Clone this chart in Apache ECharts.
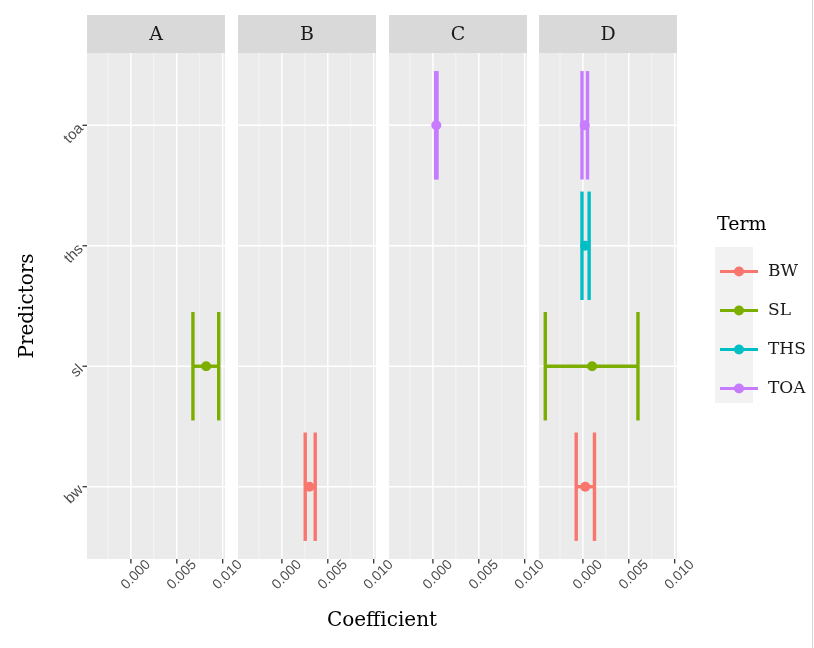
<!DOCTYPE html>
<html><head><meta charset="utf-8">
<script src="https://cdn.jsdelivr.net/npm/echarts@6/dist/echarts.min.js"></script>
<style>html,body{margin:0;padding:0;background:#fff}#c{width:814px;height:648px}</style>
</head><body><div id="c"></div>
<script>
// ---- data ----
const panels = ['A', 'B', 'C', 'D'];
const predictors = ['bw', 'sl', 'ths', 'toa'];
const terms = ['BW', 'SL', 'THS', 'TOA'];
const termColors = ['#F8766D', '#7CAE00', '#00BFC4', '#C77CFF'];
const xMajorTicks = [0, 0.005, 0.010];
const xMinorTicks = [-0.0025, 0.0025, 0.0075];
const xTickLabels = ['0.000', '0.005', '0.010'];
const rowPanel = ['A', 'B', 'C', 'D', 'D', 'D', 'D'];
const rowTerm = ['SL', 'BW', 'TOA', 'BW', 'SL', 'THS', 'TOA'];
const estimate = [0.0082, 0.0030, 0.00037, 0.00025, 0.0010, 0.00025, 0.0002];
const confLow = [0.00676, 0.00254, 0.00030, -0.00073, -0.0041, -0.0001, -0.0001];
const confHigh = [0.00957, 0.00363, 0.00045, 0.00126, 0.0060, 0.00068, 0.0005];

// ---- scales (ggplot-like 5% expansion, discrete 0.6 expansion) ----
const lo = Math.min(...confLow), hi = Math.max(...confHigh);
const pad = (hi - lo) * 0.05;
const xMin = lo - pad, xMax = hi + pad;
const yMin = 0.4, yMax = predictors.length + 0.6;

const gridLeft = [87, 238, 389, 539], gridW = 138, gridTop = 53, gridH = 506;
const SERIF = 'DejaVu Serif';
const SANS = 'Liberation Sans';

const chart = echarts.init(document.getElementById('c'), null, {renderer: 'canvas'});

const grids = [], xAxes = [], yAxes = [], series = [], graphics = [];
panels.forEach((p, i) => {
  grids.push({left: gridLeft[i], top: gridTop, width: gridW, height: gridH, show: true,
    backgroundColor: '#EBEBEB', borderWidth: 0, containLabel: false});
  xAxes.push({gridIndex: i, type: 'value', min: xMin, max: xMax, show: false});
  yAxes.push({gridIndex: i, type: 'value', min: yMin, max: yMax, show: false});

  // minor vertical gridlines
  series.push({type: 'custom', xAxisIndex: i, yAxisIndex: i, silent: true, z: 1,
    data: xMinorTicks.map(v => [v, yMin]),
    renderItem(params, api) {
      const cs = params.coordSys;
      const x = api.coord([api.value(0), yMin])[0];
      return {type: 'line', shape: {x1: x, y1: cs.y, x2: x, y2: cs.y + cs.height},
        style: {stroke: '#F7F7F7', lineWidth: 0.8}};
    }});
  // major vertical gridlines + ticks + labels
  series.push({type: 'custom', xAxisIndex: i, yAxisIndex: i, silent: true, z: 2,
    data: xMajorTicks.map((v, k) => [v, yMin, k]),
    renderItem(params, api) {
      const cs = params.coordSys;
      const x = api.coord([api.value(0), yMin])[0];
      const b = cs.y + cs.height;
      return {type: 'group', children: [
        {type: 'line', shape: {x1: x, y1: cs.y, x2: x, y2: b}, style: {stroke: '#FFFFFF', lineWidth: 1.4}},
        {type: 'line', shape: {x1: x, y1: b, x2: x, y2: b + 4.5}, style: {stroke: '#333333', lineWidth: 1.3}},
        {type: 'text', x: x + 5, y: b + 16, rotation: Math.PI / 4,
          style: {text: xTickLabels[api.value(2)], align: 'center', verticalAlign: 'middle',
            fontFamily: SANS, fontSize: 14, fill: '#4D4D4D'}}
      ]};
    }});
  // horizontal gridlines (+ y ticks/labels on first panel)
  series.push({type: 'custom', xAxisIndex: i, yAxisIndex: i, silent: true, z: 2,
    data: predictors.map((n, k) => [xMin, k + 1, k]),
    renderItem(params, api) {
      const cs = params.coordSys;
      const y = api.coord([xMin, api.value(1)])[1];
      const ch = [{type: 'line', shape: {x1: cs.x, y1: y, x2: cs.x + cs.width, y2: y},
        style: {stroke: '#FFFFFF', lineWidth: 1.4}}];
      if (i === 0) {
        ch.push({type: 'line', shape: {x1: cs.x - 4.5, y1: y, x2: cs.x, y2: y}, style: {stroke: '#333333', lineWidth: 1.3}});
        ch.push({type: 'text', x: cs.x - 6, y: y + 1, rotation: Math.PI / 4,
          style: {text: predictors[api.value(2)], align: 'right', verticalAlign: 'middle',
            fontFamily: SANS, fontSize: 15, fill: '#4D4D4D'}});
      }
      return {type: 'group', children: ch};
    }});

  // strip
  graphics.push({type: 'rect', left: gridLeft[i], top: 15, shape: {width: gridW, height: gridTop - 15},
    style: {fill: '#D9D9D9'}, z: 1});
  graphics.push({type: 'text', x: gridLeft[i] + gridW / 2, y: 35, z: 2,
    style: {text: p, align: 'center', verticalAlign: 'middle', fontFamily: SERIF, fontSize: 19, fill: '#1A1A1A'}});
});

// error bars + points
rowTerm.forEach((t, r) => {
  const gi = panels.indexOf(rowPanel[r]);
  const ti = terms.indexOf(t);
  series.push({
    type: 'custom', name: t, xAxisIndex: gi, yAxisIndex: gi, z: 5,
    itemStyle: {color: termColors[ti]},
    encode: {x: [0, 1, 2], y: 3},
    data: [[estimate[r], confLow[r], confHigh[r], predictors.indexOf(t.toLowerCase()) + 1]],
    renderItem(params, api) {
      const yv = api.value(3);
      const pl = api.coord([api.value(1), yv]);
      const ph = api.coord([api.value(2), yv]);
      const pe = api.coord([api.value(0), yv]);
      const top = api.coord([api.value(1), yv + 0.45])[1];
      const bot = api.coord([api.value(1), yv - 0.45])[1];
      const color = api.visual('color');
      const st = {stroke: color, lineWidth: 3.4};
      return {type: 'group', children: [
        {type: 'line', shape: {x1: pl[0], y1: pl[1], x2: ph[0], y2: ph[1]}, style: st},
        {type: 'line', shape: {x1: pl[0], y1: top, x2: pl[0], y2: bot}, style: st},
        {type: 'line', shape: {x1: ph[0], y1: top, x2: ph[0], y2: bot}, style: st},
        {type: 'circle', shape: {cx: pe[0], cy: pe[1], r: 5}, style: {fill: color}}
      ]};
    }
  });
});

// axis titles, legend title and key background
graphics.push({type: 'text', x: (gridLeft[0] + gridLeft[3] + gridW) / 2, y: 621, z: 2,
  style: {text: 'Coefficient', align: 'center', verticalAlign: 'middle', fontFamily: SERIF, fontSize: 20, fill: '#000'}});
graphics.push({type: 'text', x: 28, y: gridTop + gridH / 2, rotation: Math.PI / 2, z: 2,
  style: {text: 'Predictors', align: 'center', verticalAlign: 'middle', fontFamily: SERIF, fontSize: 20, fill: '#000'}});
graphics.push({type: 'text', x: 717, y: 225, z: 2,
  style: {text: 'Term', align: 'left', verticalAlign: 'middle', fontFamily: SERIF, fontSize: 19, fill: '#000'}});
graphics.push({type: 'rect', left: 715, top: 247, shape: {width: 38, height: 156}, style: {fill: '#F2F2F2'}, z: 1});
graphics.push({type: 'line', shape: {x1: 812.5, y1: 0, x2: 812.5, y2: 648}, style: {stroke: '#D6D6D6', lineWidth: 1}, z: 1});

chart.setOption({
  animation: false,
  backgroundColor: '#FFFFFF',
  grid: grids, xAxis: xAxes, yAxis: yAxes,
  legend: {
    orient: 'vertical', left: 715, top: 258, z: 10,
    itemWidth: 38, itemHeight: 10, itemGap: 22, selectedMode: false,
    icon: 'path://M0,3.4 L38,3.4 L38,6.6 L0,6.6 Z M14,5 A5,5 0 1,1 24,5 A5,5 0 1,1 14,5 Z',
    data: terms,
    textStyle: {fontFamily: SERIF, fontSize: 17, lineHeight: 17, color: '#1A1A1A', padding: [0, 0, 0, 5]}
  },
  graphic: graphics,
  series: series
});
</script></body></html>
